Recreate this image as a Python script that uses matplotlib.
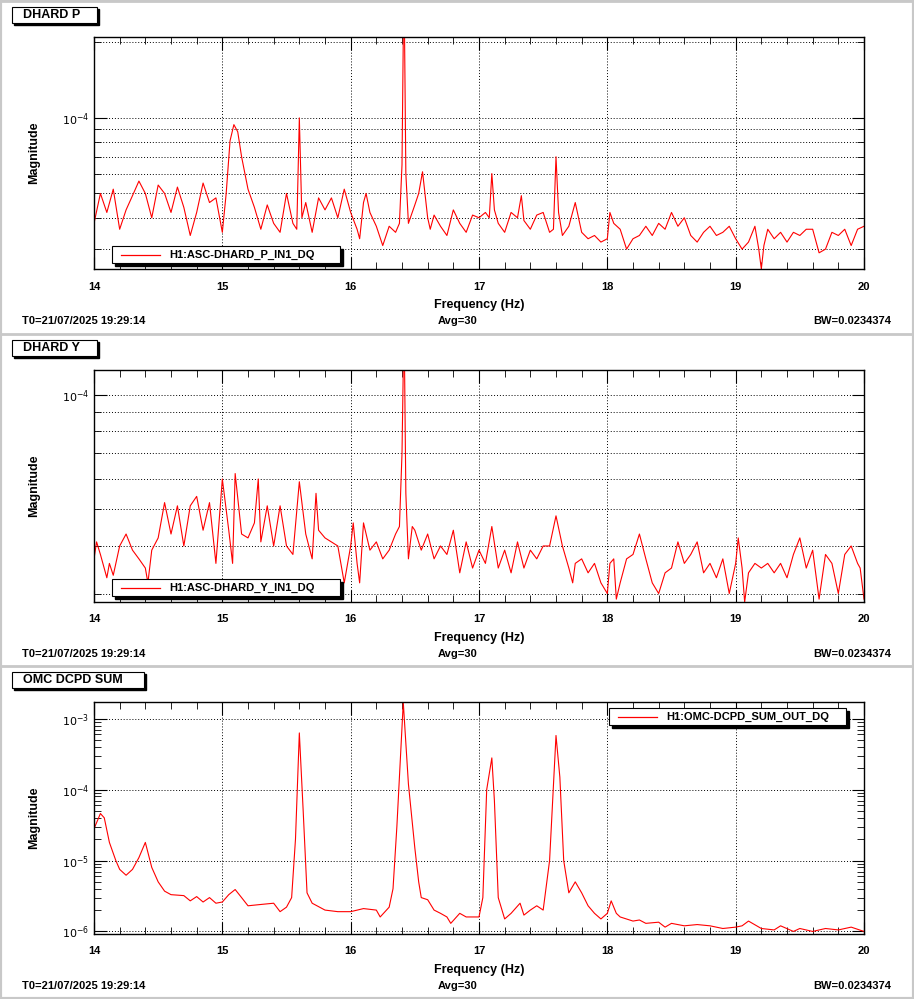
import numpy as np
import matplotlib
matplotlib.use("Agg")
import matplotlib.pyplot as plt
from matplotlib.patches import Rectangle
from matplotlib.ticker import LogLocator, MultipleLocator, NullFormatter, FuncFormatter

plt.rcParams["font.family"] = ["Liberation Sans", "DejaVu Sans"]

# DHARD P magnitude (units of 1e-5)
p_freq = [14.0, 14.05, 14.1, 14.15, 14.2, 14.25, 14.3, 14.35, 14.4, 14.45, 14.5, 14.55, 14.6, 14.65, 14.7,
          14.75, 14.8, 14.85, 14.9, 14.95, 15.0, 15.03, 15.06, 15.09, 15.12, 15.15, 15.2, 15.25, 15.3, 15.35,
          15.4, 15.45, 15.5, 15.55, 15.58, 15.6, 15.62, 15.65, 15.7, 15.75, 15.8, 15.85, 15.9, 15.95, 16.0,
          16.05, 16.07, 16.1, 16.12, 16.15, 16.2, 16.25, 16.3, 16.35, 16.38, 16.4, 16.41, 16.42, 16.43, 16.45,
          16.5, 16.53, 16.56, 16.6, 16.62, 16.65, 16.7, 16.75, 16.8, 16.85, 16.9, 16.95, 17.0, 17.05, 17.08,
          17.1, 17.12, 17.15, 17.2, 17.25, 17.3, 17.33, 17.35, 17.4, 17.45, 17.5, 17.55, 17.58, 17.6, 17.62,
          17.65, 17.7, 17.75, 17.8, 17.85, 17.9, 17.95, 18.0, 18.02, 18.05, 18.1, 18.15, 18.2, 18.25, 18.3,
          18.35, 18.4, 18.45, 18.5, 18.55, 18.6, 18.65, 18.7, 18.75, 18.8, 18.85, 18.9, 18.95, 19.0, 19.05,
          19.1, 19.15, 19.18, 19.2, 19.22, 19.25, 19.3, 19.35, 19.4, 19.45, 19.5, 19.55, 19.6, 19.65, 19.7,
          19.75, 19.8, 19.85, 19.9, 19.95, 20.0]
p_mag = [3.8, 5.0, 4.2, 5.2, 3.6, 4.3, 4.9, 5.6, 5.0, 4.0, 5.4, 5.0, 4.2, 5.3, 4.4,
         3.4, 4.2, 5.5, 4.6, 4.8, 3.5, 5.0, 8.1, 9.4, 8.8, 7.0, 5.2, 4.4, 3.6, 4.5,
         3.8, 3.5, 5.0, 3.8, 3.6, 10.0, 4.0, 4.6, 3.5, 4.8, 4.3, 4.8, 4.0, 5.2, 4.2,
         3.6, 3.3, 4.6, 5.0, 4.2, 3.7, 3.1, 3.7, 3.5, 3.8, 6.5, 21.0, 21.0, 6.0, 3.8,
         4.5, 5.0, 6.1, 4.0, 3.6, 4.1, 3.7, 3.4, 4.3, 3.8, 3.5, 4.1, 4.0, 4.2, 4.0,
         6.0, 4.3, 3.8, 3.5, 4.2, 4.0, 4.9, 3.9, 3.6, 4.1, 4.2, 3.5, 3.6, 7.0, 4.2,
         3.4, 3.7, 4.6, 3.5, 3.3, 3.4, 3.2, 3.3, 4.2, 3.8, 3.6, 3.0, 3.3, 3.4, 3.7,
         3.4, 3.8, 3.6, 4.2, 3.7, 4.0, 3.4, 3.2, 3.5, 3.7, 3.4, 3.5, 3.7, 3.3, 3.0,
         3.2, 3.7, 3.0, 2.5, 3.1, 3.6, 3.3, 3.5, 3.2, 3.5, 3.4, 3.6, 3.6, 2.9, 3.0,
         3.5, 3.4, 3.6, 3.1, 3.6, 3.7]

# DHARD Y magnitude (units of 1e-5)
y_freq = [14.0, 14.02, 14.05, 14.1, 14.12, 14.15, 14.2, 14.25, 14.3, 14.35, 14.4, 14.42, 14.45, 14.5, 14.55,
          14.6, 14.65, 14.7, 14.75, 14.8, 14.85, 14.9, 14.95, 15.0, 15.05, 15.08, 15.1, 15.15, 15.2, 15.25,
          15.28, 15.3, 15.35, 15.4, 15.45, 15.5, 15.55, 15.6, 15.65, 15.7, 15.73, 15.75, 15.8, 15.85, 15.9,
          15.95, 16.0, 16.02, 16.05, 16.07, 16.1, 16.15, 16.2, 16.25, 16.3, 16.35, 16.38, 16.4, 16.41, 16.42,
          16.43, 16.45, 16.48, 16.5, 16.55, 16.6, 16.65, 16.7, 16.75, 16.8, 16.85, 16.9, 16.95, 17.0, 17.05,
          17.1, 17.15, 17.2, 17.25, 17.3, 17.35, 17.4, 17.45, 17.5, 17.55, 17.6, 17.65, 17.7, 17.73, 17.75,
          17.8, 17.85, 17.9, 17.95, 18.0, 18.02, 18.05, 18.07, 18.1, 18.15, 18.2, 18.25, 18.3, 18.35, 18.4,
          18.45, 18.5, 18.55, 18.6, 18.65, 18.7, 18.75, 18.8, 18.85, 18.9, 18.95, 19.0, 19.02, 19.05, 19.07,
          19.1, 19.15, 19.2, 19.25, 19.3, 19.35, 19.4, 19.45, 19.5, 19.55, 19.6, 19.65, 19.7, 19.75, 19.8,
          19.85, 19.9, 19.95, 19.97, 20.0]
y_mag = [3.7, 4.1, 3.8, 3.3, 3.6, 3.35, 4.0, 4.3, 3.9, 3.7, 3.5, 3.2, 3.9, 4.2, 5.2,
         4.3, 5.1, 4.0, 5.1, 5.4, 4.4, 5.2, 3.6, 6.0, 4.4, 3.6, 6.2, 4.3, 4.2, 4.6,
         6.0, 4.1, 5.1, 4.0, 5.1, 4.0, 3.8, 5.9, 4.3, 3.7, 5.5, 4.4, 4.2, 4.1, 4.0,
         3.2, 4.0, 4.6, 3.6, 3.2, 4.6, 3.9, 4.1, 3.7, 3.9, 4.3, 4.5, 7.0, 11.8, 11.8,
         5.5, 3.7, 4.5, 4.4, 3.9, 4.3, 3.7, 4.0, 3.8, 4.4, 3.4, 4.1, 3.5, 3.9, 3.6,
         4.5, 3.5, 3.9, 3.4, 4.1, 3.5, 3.9, 3.7, 4.0, 4.0, 4.8, 4.0, 3.5, 3.2, 3.6,
         3.7, 3.4, 3.6, 3.2, 3.0, 3.6, 3.7, 2.9, 3.2, 3.7, 3.8, 4.3, 3.7, 3.2, 3.0,
         3.4, 3.5, 4.1, 3.6, 3.8, 4.1, 3.4, 3.6, 3.3, 3.7, 3.0, 3.6, 4.2, 3.5, 2.85,
         3.4, 3.6, 3.5, 3.6, 3.4, 3.6, 3.3, 3.8, 4.2, 3.5, 3.9, 2.9, 3.8, 3.6, 3.0,
         3.8, 4.0, 3.6, 3.5, 2.9]

# OMC DCPD SUM magnitude
o_freq = [14.0, 14.05, 14.08, 14.12, 14.17, 14.2, 14.25, 14.3, 14.35, 14.4, 14.45, 14.5, 14.55, 14.6, 14.7,
          14.75, 14.8, 14.85, 14.9, 14.95, 15.0, 15.05, 15.1, 15.15, 15.2, 15.3, 15.4, 15.45, 15.5, 15.54,
          15.57, 15.6, 15.63, 15.66, 15.7, 15.8, 15.9, 16.0, 16.1, 16.2, 16.23, 16.3, 16.33, 16.36, 16.41,
          16.45, 16.5, 16.53, 16.55, 16.6, 16.65, 16.7, 16.75, 16.78, 16.85, 16.9, 17.0, 17.03, 17.06, 17.1,
          17.12, 17.15, 17.2, 17.25, 17.32, 17.35, 17.4, 17.45, 17.5, 17.55, 17.6, 17.63, 17.66, 17.7, 17.75,
          17.8, 17.85, 17.9, 17.95, 18.0, 18.03, 18.07, 18.1, 18.2, 18.25, 18.3, 18.4, 18.45, 18.5, 18.6,
          18.7, 18.8, 18.9, 19.0, 19.05, 19.1, 19.2, 19.3, 19.35, 19.45, 19.5, 19.6, 19.7, 19.8, 19.9, 20.0]
o_mag = [2.8e-5, 4.6e-5, 4.0e-5, 1.8e-5, 1.0e-5, 7.5e-6, 6.2e-6, 7.5e-6, 1.1e-5, 1.8e-5, 8e-6, 5e-6, 3.7e-6, 3.3e-6, 3.2e-6,
         2.7e-6, 3.1e-6, 2.6e-6, 3.0e-6, 2.5e-6, 2.6e-6, 3.3e-6, 3.9e-6, 3.0e-6, 2.3e-6, 2.4e-6, 2.5e-6, 1.9e-6, 2.2e-6, 3.0e-6,
         2.0e-5, 6.3e-4, 5.0e-5, 3.5e-6, 2.5e-6, 2.0e-6, 1.9e-6, 1.9e-6, 2.1e-6, 2.0e-6, 1.6e-6, 2.2e-6, 4.0e-6, 3.0e-5, 1.7e-3,
         1.2e-4, 1.5e-5, 5e-6, 3.0e-6, 2.8e-6, 2.0e-6, 1.8e-6, 1.6e-6, 1.3e-6, 1.8e-6, 1.6e-6, 1.6e-6, 3.0e-6, 1.0e-4, 2.8e-4,
         7e-5, 3e-6, 1.5e-6, 1.8e-6, 2.5e-6, 1.7e-6, 2.0e-6, 2.3e-6, 2.0e-6, 1e-5, 5.8e-4, 1.5e-4, 1.0e-5, 3.5e-6, 5.0e-6,
         3.5e-6, 2.3e-6, 1.8e-6, 1.5e-6, 1.8e-6, 2.7e-6, 1.8e-6, 1.6e-6, 1.4e-6, 1.45e-6, 1.3e-6, 1.35e-6, 1.15e-6, 1.3e-6, 1.2e-6,
         1.25e-6, 1.2e-6, 1.1e-6, 1.15e-6, 1.2e-6, 1.4e-6, 1.1e-6, 1.05e-6, 1.2e-6, 1.0e-6, 1.1e-6, 1.0e-6, 1.1e-6, 1.05e-6, 1.15e-6, 1.0e-6]

W, H = 914, 999
fig = plt.figure(figsize=(W / 100, H / 100), dpi=100)
fig.patch.set_facecolor("white")


def fx(x):
    return x / W


def fy(y):
    return 1 - y / H


def box(x0, y0, x1, y1, shadow=3, lw=0.8):
    fig.patches.append(Rectangle((fx(x0 + shadow), fy(y1 + shadow)), fx(x1 - x0), (y1 - y0) / H,
                                 transform=fig.transFigure, facecolor="black", edgecolor="black", zorder=5))
    fig.patches.append(Rectangle((fx(x0), fy(y1)), fx(x1 - x0), (y1 - y0) / H,
                                 transform=fig.transFigure, facecolor="white", edgecolor="black", lw=lw, zorder=6))


def decade_fmt(v, pos):
    e = int(round(np.log10(v)))
    return r"$10^{%d}$" % e


panels = [
    ("DHARD P", 0, np.array(p_freq), np.array(p_mag) * 1e-5, (2.5e-5, 2.1e-4), "H1:ASC-DHARD_P_IN1_DQ", "ll", True),
    ("DHARD Y", 333, np.array(y_freq), np.array(y_mag) * 1e-5, (2.85e-5, 1.16e-4), "H1:ASC-DHARD_Y_IN1_DQ", "ll", True),
    ("OMC DCPD SUM", 665, np.array(o_freq), np.array(o_mag), (0.92e-6, 1.72e-3), "H1:OMC-DCPD_SUM_OUT_DQ", "ur", False),
]

for title, off, f, m, ylim, leg, legpos, minor_grid in panels:
    # panel separator
    fig.add_artist(plt.Line2D([0, 1], [fy(off + 1), fy(off + 1)], transform=fig.transFigure,
                              color="#c8c8c8", lw=2))
    ax = fig.add_axes([fx(94), fy(off + 269), fx(864 - 94), 232 / H])
    ax.plot(f, m, color="red", lw=0.8)
    ax.set_yscale("log")
    ax.set_xlim(14, 20)
    ax.set_ylim(*ylim)
    ax.xaxis.set_major_locator(MultipleLocator(1))
    ax.xaxis.set_minor_locator(MultipleLocator(0.2))
    ax.yaxis.set_major_locator(LogLocator(base=10, numticks=10))
    ax.yaxis.set_minor_locator(LogLocator(base=10, subs=np.arange(2, 10), numticks=20))
    ax.yaxis.set_major_formatter(FuncFormatter(decade_fmt))
    ax.yaxis.set_minor_formatter(NullFormatter())
    ax.grid(True, which="major", axis="both", linestyle=(0, (1, 2)), color="black", lw=0.7)
    if minor_grid:
        ax.grid(True, which="minor", axis="y", linestyle=(0, (1, 2)), color="black", lw=0.7)
    ax.tick_params(which="both", direction="in", top=True, right=True, labelsize=8)
    ax.tick_params(axis="x", pad=9)
    ax.tick_params(which="major", length=9)
    ax.tick_params(which="minor", length=5)
    for lab in ax.get_xticklabels() + ax.get_yticklabels():
        lab.set_fontweight("bold")
    ax.set_xlabel("Frequency (Hz)", fontsize=9, fontweight="bold")
    ax.xaxis.set_label_coords(0.5, -0.13)
    ax.set_ylabel("Magnitude", fontsize=9, fontweight="bold")
    ax.yaxis.set_label_coords(-0.07, 0.5)
    for s in ax.spines.values():
        s.set_linewidth(1.0)

    # title box
    tw = 85 if len(title) < 10 else 132
    box(12, off + 7, 12 + tw, off + 23, shadow=2)
    fig.text(fx(23), fy(off + 15), title, fontsize=9, fontweight="bold", va="center", zorder=7)

    # legend box
    if legpos == "ll":
        x0, y0, x1, y1 = 112, off + 246, 340, off + 263
    else:
        x0, y0, x1, y1 = 609, off + 43, 846, off + 60
    box(x0, y0, x1, y1, shadow=3)
    fig.add_artist(plt.Line2D([fx(x0 + 9), fx(x0 + 48)], [fy((y0 + y1) / 2)] * 2,
                              transform=fig.transFigure, color="red", lw=0.9, zorder=7))
    fig.text(fx(x0 + 57), fy((y0 + y1) / 2), leg, fontsize=8, fontweight="bold", va="center", zorder=7)

    # footer
    fig.text(fx(22), fy(off + 321), "T0=21/07/2025 19:29:14", fontsize=8, fontweight="bold", va="center")
    fig.text(fx(458), fy(off + 321), "Avg=30", fontsize=8, fontweight="bold", va="center", ha="center")
    fig.text(fx(891), fy(off + 321), "BW=0.0234374", fontsize=8, fontweight="bold", va="center", ha="right")

# outer frame
fig.add_artist(Rectangle((0, 0), 1, 1, transform=fig.transFigure, fill=False, edgecolor="#c8c8c8", lw=3))

fig.savefig("out.png", dpi=100)
